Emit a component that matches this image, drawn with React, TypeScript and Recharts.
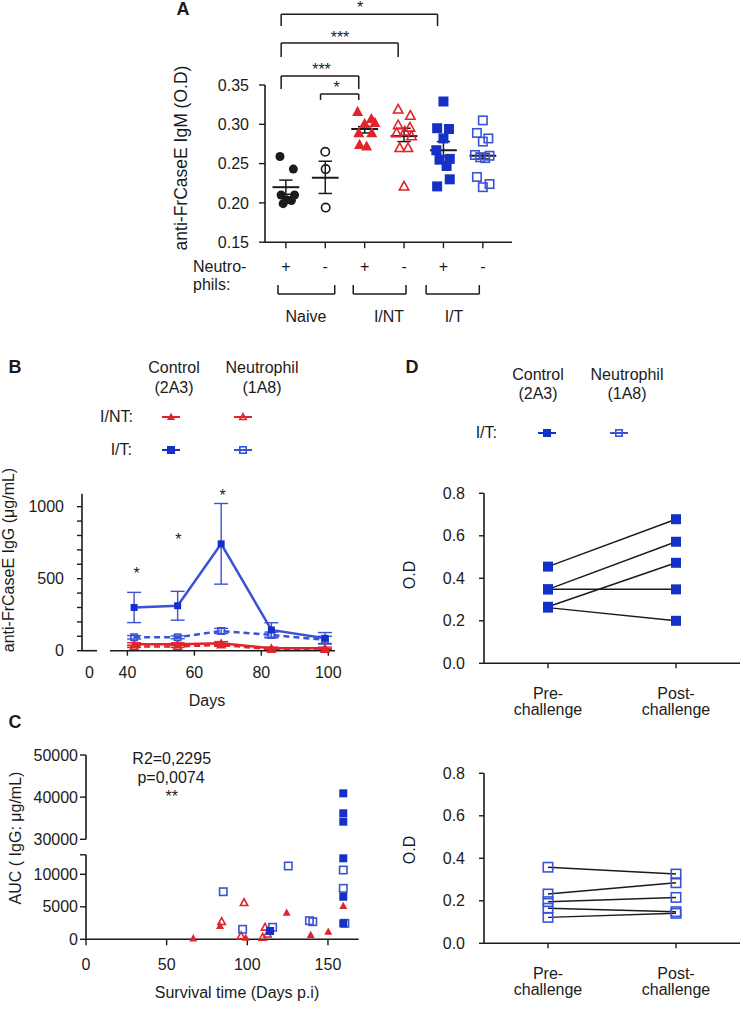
import React from "react";
import {
  ComposedChart,
  Scatter,
  Line,
  XAxis,
  YAxis,
  ReferenceLine,
  ErrorBar,
} from "recharts";

const W = 740;
const H = 1019;
const FONT = '"Liberation Sans", Arial, Helvetica, sans-serif';
const INK = "#1b1b1b";
const RED = "#e1242b";
const BLUE = "#1430c6";
const BLUE_LT = "#3a52d6";

// ---------- A: anti-FrCaseE IgM (O.D) by group ----------
const signsA = ["+", "-", "+", "-", "+", "-"];
const groupsA = ["Naive", "I/NT", "I/T"];
// dx = horizontal scatter within the column, y = O.D
const naivePlus = [
  { dx: -0.15, y: 0.259 }, { dx: 0.19, y: 0.243 }, { dx: -0.12, y: 0.21 }, { dx: 0.22, y: 0.21 },
  { dx: 0.02, y: 0.204 }, { dx: -0.07, y: 0.199 }, { dx: 0.14, y: 0.203 },
];
const naiveMinus = [{ dx: 0, y: 0.265 }, { dx: 0.01, y: 0.243 }, { dx: 0.01, y: 0.194 }];
const intPlus = [
  { dx: -0.18, y: 0.316 }, { dx: 0.17, y: 0.307 }, { dx: 0.0, y: 0.301 }, { dx: 0.26, y: 0.302 },
  { dx: -0.15, y: 0.289 }, { dx: 0.18, y: 0.289 }, { dx: -0.13, y: 0.274 }, { dx: 0.05, y: 0.272 },
];
const intMinus = [
  { dx: -0.15, y: 0.319 }, { dx: 0.16, y: 0.311 }, { dx: -0.15, y: 0.299 }, { dx: 0.15, y: 0.296 },
  { dx: -0.19, y: 0.289 }, { dx: 0.02, y: 0.291 }, { dx: 0.19, y: 0.285 }, { dx: -0.11, y: 0.27 },
  { dx: 0.1, y: 0.27 }, { dx: 0.0, y: 0.221 },
];
const itPlus = [
  { dx: 0, y: 0.329 }, { dx: -0.16, y: 0.295 }, { dx: 0.14, y: 0.294 }, { dx: 0, y: 0.282 },
  { dx: -0.18, y: 0.267 }, { dx: -0.1, y: 0.255 }, { dx: 0.16, y: 0.256 }, { dx: 0.08, y: 0.247 },
  { dx: 0.16, y: 0.23 }, { dx: -0.16, y: 0.221 },
];
const itMinus = [
  { dx: 0, y: 0.305 }, { dx: -0.15, y: 0.289 }, { dx: 0.14, y: 0.282 }, { dx: 0, y: 0.278 },
  { dx: -0.2, y: 0.261 }, { dx: -0.07, y: 0.258 }, { dx: 0.17, y: 0.26 }, { dx: 0.06, y: 0.257 },
  { dx: -0.15, y: 0.233 }, { dx: 0, y: 0.22 }, { dx: 0.17, y: 0.224 },
];
const meansA = [0.22, 0.232, 0.294, 0.285, 0.267, 0.26];
const semHiA = [0.229, 0.253, 0.297, 0.295, 0.278, 0.263];
const semLoA = [0.211, 0.212, 0.289, 0.278, 0.259, 0.256];
const comparisonsA = [
  { from: 0, to: 4, label: "*" },
  { from: 0, to: 3, label: "***" },
  { from: 0, to: 2, label: "***" },
  { from: 1, to: 2, label: "*" },
];

// ---------- B: anti-FrCaseE IgG over time ----------
const daysB = [42, 55, 68, 83, 99];
const itCtrlB = [300, 312, 742, 144, 86];
const itCtrlErrB = [105, 100, 280, 50, 40];
const itNeuB = [93, 93, 137, 109, 75];
const itNeuErrB = [12, 10, 18, 20, 25];
const intCtrlB = [45, 45, 51, 17, 17];
const intCtrlErrB = [10, 10, 12, 8, 8];
const intNeuB = [30, 30, 40, 10, 10];
const intNeuErrB = [8, 8, 10, 5, 5];
const starsB = ["*", "*", "*"];

// ---------- C: AUC vs survival time ----------
const itCtrlC = [
  { x: 114.1, y: 1280 }, { x: 159.5, y: 40910 }, { x: 159.5, y: 36170 }, { x: 159.5, y: 34180 },
  { x: 159.5, y: 12460 }, { x: 159.5, y: 6550 }, { x: 159.5, y: 2460 },
];
const itNeuC = [
  { x: 85.1, y: 7320 }, { x: 125.4, y: 11280 }, { x: 97.1, y: 1540 }, { x: 115.7, y: 1850 },
  { x: 138.5, y: 2860 }, { x: 140.6, y: 2710 }, { x: 159.5, y: 10660 }, { x: 159.5, y: 7840 },
  { x: 160.5, y: 2460 },
];
const intCtrlC = [
  { x: 66.5, y: 150 }, { x: 83.1, y: 2050 }, { x: 99, y: 250 }, { x: 124.4, y: 4100 },
  { x: 139.3, y: 660 }, { x: 150.2, y: 1170 }, { x: 159.5, y: 5120 },
];
const intNeuC = [
  { x: 84.1, y: 2710 }, { x: 98, y: 5630 }, { x: 96.1, y: 510 }, { x: 111, y: 1850 },
  { x: 109.5, y: 300 }, { x: 112.5, y: 800 },
];
const statsC = ["R2=0,2295", "p=0,0074", "**"];

// ---------- D: pre / post challenge ----------
const challengeTicks = ["Pre-\nchallenge", "Post-\nchallenge"];
const preCtrlD = [0.455, 0.348, 0.348, 0.266, 0.262];
const postCtrlD = [0.678, 0.572, 0.348, 0.473, 0.2];
const preNeuD = [0.358, 0.232, 0.196, 0.165, 0.122];
const postNeuD = [0.326, 0.285, 0.216, 0.149, 0.141];

// ---------- helpers ----------
const tickStyle = { fontSize: 16, fill: INK, fontFamily: FONT };
const axisStyle = { stroke: INK, strokeWidth: 1.6 };
const tickLineStyle = { stroke: INK, strokeWidth: 1.4 };

function Mark({ cx, cy, kind, filled, color, size }: any) {
  if (cx == null || cy == null || Number.isNaN(cx) || Number.isNaN(cy)) return <g />;
  const sw = 1.6;
  const s = filled ? size : size - sw;
  const fill = filled ? color : "none";
  const strokeWidth = filled ? 0 : sw;
  if (kind === "circle")
    return <circle cx={cx} cy={cy} r={s / 2} fill={fill} stroke={color} strokeWidth={strokeWidth} />;
  if (kind === "square")
    return (
      <rect x={cx - s / 2} y={cy - s / 2} width={s} height={s} fill={fill} stroke={color} strokeWidth={strokeWidth} />
    );
  const h = s * 0.92;
  const pts = `${cx},${cy - h * 0.58} ${cx - s / 2},${cy + h * 0.42} ${cx + s / 2},${cy + h * 0.42}`;
  return <polygon points={pts} fill={fill} stroke={color} strokeWidth={strokeWidth} />;
}

const shape = (kind: string, filled: boolean, color: string, size: number) => (p: any) =>
  <Mark cx={p.cx} cy={p.cy} kind={kind} filled={filled} color={color} size={size} />;

const dotFn = (kind: string, filled: boolean, color: string, size: number) => (p: any) =>
  <Mark key={`d${p.index}`} cx={p.cx} cy={p.cy} kind={kind} filled={filled} color={color} size={size} />;

function Layer({ children }: { children: React.ReactNode }) {
  return <div style={{ position: "absolute", left: 0, top: 0, width: W, height: H }}>{children}</div>;
}

function Txt({ x, y, children, anchor = "middle", size = 16, bold = false, rotate = false }: any) {
  const tx = anchor === "middle" ? "-50%" : anchor === "end" ? "-100%" : "0%";
  return (
    <div
      style={{
        position: "absolute",
        left: x,
        top: y,
        transform: `translate(${tx}, -50%)` + (rotate ? " rotate(-90deg)" : ""),
        fontSize: size,
        fontWeight: bold ? 700 : 400,
        lineHeight: 1,
        whiteSpace: "nowrap",
        fontFamily: FONT,
        color: INK,
      }}
    >
      {children}
    </div>
  );
}

// asterisks sit high in the em box, so nudge the box down
function Star({ x, y, children }: any) {
  return <Txt x={x} y={y + 3.7}>{children}</Txt>;
}

function Key({ x, y, kind, filled, color }: any) {
  return (
    <svg style={{ position: "absolute", left: x - 12, top: y - 7 }} width={24} height={14}>
      <line x1={3} y1={7} x2={21} y2={7} stroke={color} strokeWidth={2} />
      <Mark cx={12} cy={7} kind={kind} filled={filled} color={color} size={8} />
    </svg>
  );
}

function ChallengeTick({ x, y, payload }: any) {
  const [a, b] = challengeTicks[payload.value].split("\n");
  return (
    <g fontFamily={FONT} fontSize={16} fill={INK} textAnchor="middle">
      <text x={x} y={y + 30.5}>{a}</text>
      <text x={x} y={y + 47}>{b}</text>
    </g>
  );
}

// ---------- panels ----------
function PanelA() {
  const cols = [
    { pts: naivePlus, kind: "circle", filled: true, color: INK, size: 9 },
    { pts: naiveMinus, kind: "circle", filled: false, color: INK, size: 10 },
    { pts: intPlus, kind: "triangle", filled: true, color: RED, size: 11 },
    { pts: intMinus, kind: "triangle", filled: false, color: RED, size: 11 },
    { pts: itPlus, kind: "square", filled: true, color: BLUE, size: 10 },
    { pts: itMinus, kind: "square", filled: false, color: BLUE_LT, size: 10 },
  ];
  const levels = [[0.44, 0.425], [0.4035, 0.3855], [0.3615, 0.345], [0.3385, 0.331]];
  const groupSpan = [[-0.2, 1.24], [1.71, 3.05], [3.56, 4.91]];
  const seg = (x1: number, y1: number, x2: number, y2: number, k: string, w = 1.5) => (
    <ReferenceLine
      key={k}
      segment={[{ x: x1, y: y1 }, { x: x2, y: y2 }]}
      stroke={INK}
      strokeWidth={w}
      ifOverflow="visible"
    />
  );
  const plotBottom = 242.2;
  return (
    <>
      <Layer>
        <ComposedChart width={W} height={H} margin={{ top: 85, right: 228, bottom: H - plotBottom - 40, left: 215 }}>
          <XAxis
            type="number"
            dataKey="x"
            domain={[-0.53, 5.74]}
            ticks={[0, 1, 2, 3, 4, 5]}
            tickFormatter={(v: number) => signsA[v]}
            height={40}
            tickSize={6}
            tickMargin={12.5}
            tick={tickStyle}
            axisLine={axisStyle}
            tickLine={tickLineStyle}
          />
          <YAxis
            type="number"
            dataKey="y"
            domain={[0.15, 0.35]}
            ticks={[0.15, 0.2, 0.25, 0.3, 0.35]}
            tickFormatter={(v: number) => v.toFixed(2)}
            width={50}
            tickSize={6}
            tickMargin={10}
            tick={tickStyle}
            axisLine={axisStyle}
            tickLine={tickLineStyle}
          />
          {cols.map((c, i) => (
            <Scatter
              key={i}
              data={c.pts.map((p) => ({ x: i + p.dx, y: p.y }))}
              shape={shape(c.kind, c.filled, c.color, c.size)}
              isAnimationActive={false}
            />
          ))}
          {meansA.map((m, i) => [
            seg(i - 0.34, m, i + 0.34, m, `m${i}`, 2),
            seg(i, semLoA[i], i, semHiA[i], `s${i}`),
            seg(i - 0.17, semHiA[i], i + 0.17, semHiA[i], `h${i}`),
            seg(i - 0.17, semLoA[i], i + 0.17, semLoA[i], `l${i}`),
          ])}
          {comparisonsA.map((c, i) => {
            const [top, leg] = levels[i];
            const x1 = c.from - 0.12;
            const x2 = c.to - 0.15;
            return [
              seg(x1, top, x2, top, `b${i}`),
              seg(x1, top, x1, leg, `bl${i}`),
              seg(x2, top, x2, leg, `br${i}`),
            ];
          })}
          {groupSpan.map(([a, b], i) => [
            seg(a, 0.084, b, 0.084, `g${i}`),
            seg(a, 0.084, a, 0.0955, `ga${i}`),
            seg(b, 0.084, b, 0.0955, `gb${i}`),
          ])}
        </ComposedChart>
      </Layer>
      <Txt x={183} y={9} bold size={18}>A</Txt>
      <Star x={360} y={4}>{comparisonsA[0].label}</Star>
      <Star x={340} y={34}>{comparisonsA[1].label}</Star>
      <Star x={321.5} y={65.8}>{comparisonsA[2].label}</Star>
      <Star x={336.7} y={84}>{comparisonsA[3].label}</Star>
      <Txt x={182} y={158} rotate size={17.5}>anti-FrCaseE IgM (O.D)</Txt>
      <Txt x={193} y={266.7} anchor="start">Neutro-</Txt>
      <Txt x={193} y={285} anchor="start">phils:</Txt>
      <Txt x={306} y={317.3}>{groupsA[0]}</Txt>
      <Txt x={389} y={317.3}>{groupsA[1]}</Txt>
      <Txt x={454} y={317.3}>{groupsA[2]}</Txt>
    </>
  );
}

function PanelB() {
  const rows = daysB.map((d, i) => ({
    day: d,
    itCtrl: itCtrlB[i],
    itCtrlErr: itCtrlErrB[i],
    itNeu: itNeuB[i],
    itNeuErr: itNeuErrB[i],
    intCtrl: intCtrlB[i],
    intCtrlErr: intCtrlErrB[i],
    intNeu: intNeuB[i],
    intNeuErr: intNeuErrB[i],
  }));
  const top = 493.7;
  const bottom = 650.7;
  const yDomain = [0, 1090];
  return (
    <>
      {/* left part: y axis and the short "0" segment of the broken x axis */}
      <Layer>
        <ComposedChart
          data={[{ x: -1, y: 0 }, { x: 1, y: 0 }]}
          width={W}
          height={H}
          margin={{ top, right: W - 97, bottom: H - bottom - 30, left: 32 }}
        >
          <XAxis
            type="number"
            dataKey="x"
            domain={[-1, 1]}
            ticks={[0]}
            height={30}
            tickSize={5}
            tickMargin={11.3}
            tick={tickStyle}
            axisLine={axisStyle}
            tickLine={false}
          />
          <YAxis
            type="number"
            domain={yDomain}
            ticks={[0, 100, 200, 300, 400, 500, 600, 700, 800, 900, 1000]}
            tickFormatter={(v: number) => (v % 500 === 0 ? String(v) : "")}
            width={50}
            tickSize={5}
            tickMargin={13}
            tick={tickStyle}
            axisLine={axisStyle}
            tickLine={tickLineStyle}
          />
          <Line dataKey="y" stroke="none" dot={false} isAnimationActive={false} />
        </ComposedChart>
      </Layer>
      <Layer>
        <ComposedChart data={rows} width={W} height={H} margin={{ top, right: W - 335, bottom: H - bottom - 30, left: 110 }}>
          <XAxis
            type="number"
            dataKey="day"
            domain={[34.8, 102]}
            ticks={[40, 60, 80, 100]}
            height={30}
            tickSize={5}
            tickMargin={11.3}
            tick={tickStyle}
            axisLine={axisStyle}
            tickLine={tickLineStyle}
          />
          <YAxis type="number" domain={yDomain} hide />
          <Line dataKey="intNeu" stroke={RED} strokeWidth={2.5} strokeDasharray="6 4" dot={dotFn("triangle", false, RED, 9)} isAnimationActive={false}>
            <ErrorBar dataKey="intNeuErr" direction="y" width={7} stroke={RED} strokeWidth={1.4} />
          </Line>
          <Line dataKey="intCtrl" stroke={RED} strokeWidth={2.5} dot={dotFn("triangle", true, RED, 9)} isAnimationActive={false}>
            <ErrorBar dataKey="intCtrlErr" direction="y" width={7} stroke={RED} strokeWidth={1.4} />
          </Line>
          <Line dataKey="itNeu" stroke={BLUE_LT} strokeWidth={2.5} strokeDasharray="6 4" dot={dotFn("square", false, BLUE_LT, 8)} isAnimationActive={false}>
            <ErrorBar dataKey="itNeuErr" direction="y" width={7} stroke={BLUE_LT} strokeWidth={1.4} />
          </Line>
          <Line dataKey="itCtrl" stroke={BLUE_LT} strokeWidth={2.5} dot={dotFn("square", true, BLUE, 7)} isAnimationActive={false}>
            <ErrorBar dataKey="itCtrlErr" direction="y" width={7} stroke={BLUE_LT} strokeWidth={1.4} />
          </Line>
        </ComposedChart>
      </Layer>
      <Txt x={15} y={367} bold size={18}>B</Txt>
      <Txt x={174} y={368}>Control</Txt>
      <Txt x={174} y={388}>(2A3)</Txt>
      <Txt x={262} y={368}>Neutrophil</Txt>
      <Txt x={262} y={388}>(1A8)</Txt>
      <Txt x={133} y={417} anchor="end">I/NT:</Txt>
      <Txt x={132} y={450} anchor="end">I/T:</Txt>
      <Key x={171} y={417} kind="triangle" filled color={RED} />
      <Key x={243} y={417} kind="triangle" filled={false} color={RED} />
      <Key x={171} y={450} kind="square" filled color={BLUE} />
      <Key x={243} y={450} kind="square" filled={false} color={BLUE_LT} />
      <Star x={136.7} y={570}>{starsB[0]}</Star>
      <Star x={178.3} y={536.7}>{starsB[1]}</Star>
      <Star x={222.7} y={492.3}>{starsB[2]}</Star>
      <Txt x={9} y={560} rotate>anti-FrCaseE IgG (μg/mL)</Txt>
      <Txt x={207} y={701}>Days</Txt>
    </>
  );
}

function PanelC() {
  const series = [
    { pts: intCtrlC, kind: "triangle", filled: true, color: RED, size: 8 },
    { pts: intNeuC, kind: "triangle", filled: false, color: RED, size: 9 },
    { pts: itNeuC, kind: "square", filled: false, color: BLUE_LT, size: 9 },
    { pts: itCtrlC, kind: "square", filled: true, color: BLUE, size: 8 },
  ];
  const xDomain = [0, 169];
  const right = W - 358.6;
  return (
    <>
      <Layer>
        <ComposedChart width={W} height={H} margin={{ top: 755, right, bottom: H - 839.3, left: 16 }}>
          <XAxis type="number" dataKey="x" domain={xDomain} hide />
          <YAxis
            type="number"
            dataKey="y"
            domain={[30000, 50000]}
            ticks={[30000, 35000, 40000, 45000, 50000]}
            width={70}
            tickSize={6}
            tickMargin={2}
            tick={tickStyle}
            axisLine={axisStyle}
            tickLine={tickLineStyle}
          />
          {series.map((s, i) => (
            <Scatter
              key={i}
              data={s.pts.filter((p) => p.y >= 20000)}
              shape={shape(s.kind, s.filled, s.color, s.size)}
              isAnimationActive={false}
            />
          ))}
        </ComposedChart>
      </Layer>
      <Layer>
        <ComposedChart width={W} height={H} margin={{ top: 854.8, right, bottom: H - 939.3 - 40, left: 16 }}>
          <XAxis
            type="number"
            dataKey="x"
            domain={xDomain}
            ticks={[0, 50, 100, 150]}
            height={40}
            tickSize={6}
            tickMargin={13}
            tick={tickStyle}
            axisLine={axisStyle}
            tickLine={tickLineStyle}
          />
          <YAxis
            type="number"
            dataKey="y"
            domain={[0, 13000]}
            ticks={[0, 5000, 10000, 13000]}
            tickFormatter={(v: number) => (v === 13000 ? "" : String(v))}
            width={70}
            tickSize={6}
            tickMargin={2}
            tick={tickStyle}
            axisLine={axisStyle}
            tickLine={tickLineStyle}
          />
          {series.map((s, i) => (
            <Scatter
              key={i}
              data={s.pts.filter((p) => p.y < 20000)}
              shape={shape(s.kind, s.filled, s.color, s.size)}
              isAnimationActive={false}
            />
          ))}
        </ComposedChart>
      </Layer>
      <Txt x={15} y={722} bold size={18}>C</Txt>
      <Txt x={171.7} y={759.3}>{statsC[0]}</Txt>
      <Txt x={171} y={778.3}>{statsC[1]}</Txt>
      <Star x={171.7} y={793.3}>{statsC[2]}</Star>
      <Txt x={15.5} y={837.5} rotate>AUC ( IgG: μg/mL)</Txt>
      <Txt x={237} y={993}>Survival time (Days p.i)</Txt>
    </>
  );
}

function PairedPlot({ pre, post, filled, top, bottom }: any) {
  const color = filled ? BLUE : BLUE_LT;
  return (
    <Layer>
      <ComposedChart width={W} height={H} margin={{ top, right: 0, bottom: H - bottom - 60, left: 424 }}>
        <XAxis
          type="number"
          dataKey="x"
          domain={[-0.5, 1.5]}
          ticks={[0, 1]}
          height={60}
          tickSize={5}
          tickMargin={0}
          tick={<ChallengeTick />}
          axisLine={axisStyle}
          tickLine={tickLineStyle}
        />
        <YAxis
          type="number"
          dataKey="y"
          domain={[0, 0.8]}
          ticks={[0, 0.2, 0.4, 0.6, 0.8]}
          tickFormatter={(v: number) => v.toFixed(1)}
          width={60}
          tickSize={5}
          tickMargin={14}
          tick={tickStyle}
          axisLine={axisStyle}
          tickLine={tickLineStyle}
        />
        {pre.map((v: number, i: number) => (
          <Line
            key={i}
            data={[{ x: 0, y: v }, { x: 1, y: post[i] }]}
            dataKey="y"
            stroke={INK}
            strokeWidth={1.5}
            dot={dotFn("square", filled, color, filled ? 10 : 11)}
            isAnimationActive={false}
          />
        ))}
      </ComposedChart>
    </Layer>
  );
}

function PanelD() {
  return (
    <>
      <PairedPlot pre={preCtrlD} post={postCtrlD} filled top={493.3} bottom={663.3} />
      <PairedPlot pre={preNeuD} post={postNeuD} filled={false} top={773.3} bottom={943.3} />
      <Txt x={412} y={367} bold size={18}>D</Txt>
      <Txt x={538} y={375}>Control</Txt>
      <Txt x={538} y={394}>(2A3)</Txt>
      <Txt x={627} y={375}>Neutrophil</Txt>
      <Txt x={627} y={394}>(1A8)</Txt>
      <Txt x={497} y={433} anchor="end">I/T:</Txt>
      <Key x={547} y={433} kind="square" filled color={BLUE} />
      <Key x={619} y={433} kind="square" filled={false} color={BLUE_LT} />
      <Txt x={410} y={575} rotate>O.D</Txt>
      <Txt x={410} y={850} rotate>O.D</Txt>
    </>
  );
}

export default function App() {
  return (
    <div
      style={{
        position: "absolute",
        left: 0,
        top: 0,
        width: W,
        height: H,
        background: "#fff",
        overflow: "hidden",
        fontFamily: FONT,
      }}
    >
      <PanelA />
      <PanelB />
      <PanelC />
      <PanelD />
    </div>
  );
}
